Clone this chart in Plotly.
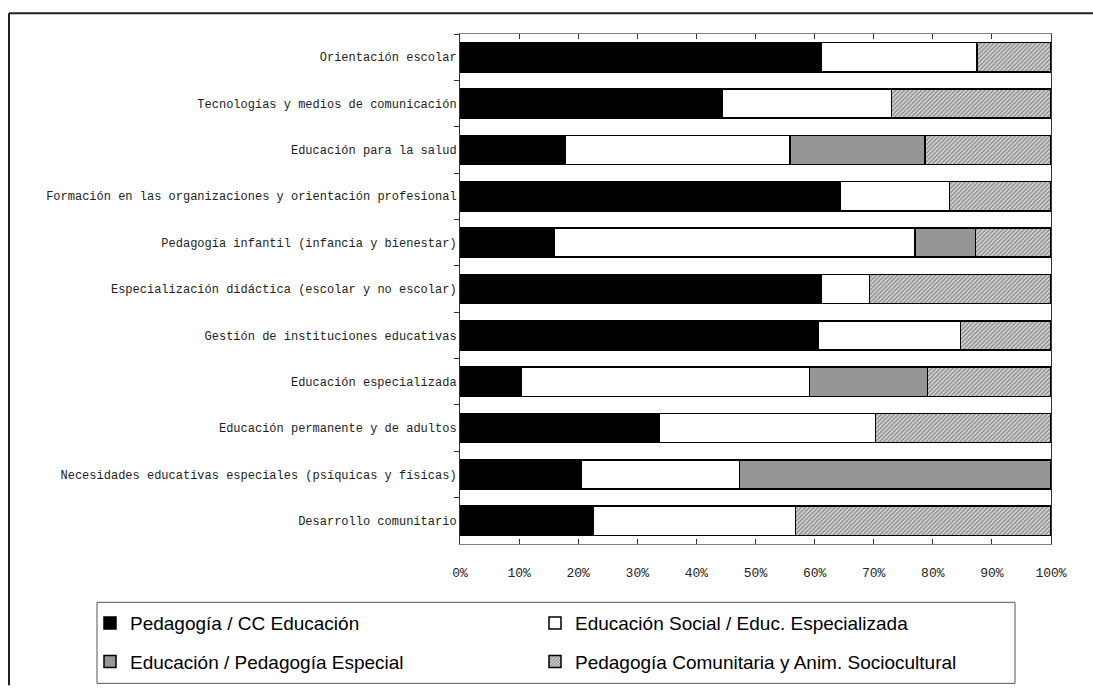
import plotly.graph_objects as go

# Study areas (top to bottom as drawn)
categories = [
    "Orientación escolar",
    "Tecnologías y medios de comunicación",
    "Educación para la salud",
    "Formación en las organizaciones y orientación profesional",
    "Pedagogía infantil (infancia y bienestar)",
    "Especialización didáctica (escolar y no escolar)",
    "Gestión de instituciones educativas",
    "Educación especializada",
    "Educación permanente y de adultos",
    "Necesidades educativas especiales (psíquicas y físicas)",
    "Desarrollo comunitario",
]

# Share (%) of each degree per area
pedagogia_cc = [61.2, 44.4, 17.8, 64.3, 16.0, 61.2, 60.6, 10.3, 33.7, 20.5, 22.5]
educ_social = [26.3, 28.6, 38.0, 18.5, 61.0, 8.1, 24.1, 48.8, 36.6, 26.8, 34.3]
pedag_especial = [0.0, 0.0, 22.9, 0.0, 10.2, 0.0, 0.0, 20.0, 0.0, 52.7, 0.0]
pedag_comunitaria = [12.5, 27.0, 21.3, 17.2, 12.8, 30.7, 15.3, 20.9, 29.7, 0.0, 43.2]

series_names = [
    "Pedagogía / CC Educación",
    "Educación Social / Educ. Especializada",
    "Educación / Pedagogía Especial",
    "Pedagogía Comunitaria y Anim. Sociocultural",
]

tick_vals = [0, 10, 20, 30, 40, 50, 60, 70, 80, 90, 100]
tick_text = ["0%", "10%", "20%", "30%", "40%", "50%", "60%", "70%", "80%", "90%", "100%"]

W, H = 1093, 693
L, R, T, B = 460, 1051, 34, 550  # plot area in pixels
pw, ph = R - L, B - T


def px(x):
    return (x - L) / pw


def py(y):
    return (B - y) / ph


outline = dict(color="black", width=1.5)
fig = go.Figure()
fig.add_trace(go.Bar(
    y=categories, x=pedagogia_cc, name=series_names[0], orientation="h",
    marker=dict(color="black", line=outline), legend="legend",
))
fig.add_trace(go.Bar(
    y=categories, x=educ_social, name=series_names[1], orientation="h",
    marker=dict(color="white", line=outline), legend="legend",
))
fig.add_trace(go.Bar(
    y=categories, x=pedag_especial, name=series_names[2], orientation="h",
    marker=dict(color="#969696", line=outline), legend="legend2",
))
fig.add_trace(go.Bar(
    y=categories, x=pedag_comunitaria, name=series_names[3], orientation="h",
    marker=dict(color="white", line=outline,
                pattern=dict(shape="/", fgcolor="#404040", bgcolor="#dadada",
                             size=3, solidity=0.5)),
    legend="legend2",
))

legend_font = dict(family="Liberation Sans", size=19, color="black")
legend_common = dict(
    orientation="h", xanchor="left", yanchor="middle",
    traceorder="normal", itemwidth=30,
    entrywidth=400, entrywidthmode="pixels",
    font=legend_font, bgcolor="rgba(0,0,0,0)", borderwidth=0,
    itemclick=False, itemdoubleclick=False,
)

frame_line = dict(color="#222222", width=2)

fig.update_layout(
    width=W, height=H,
    margin=dict(l=L, r=W - R, t=T, b=H - B),
    paper_bgcolor="white", plot_bgcolor="white",
    barmode="stack", bargap=0.37,
    showlegend=True,
    legend=dict(x=px(90), y=py(630), **legend_common),
    legend2=dict(x=px(90), y=py(669), **legend_common),
    xaxis=dict(
        range=[0, 100], tickvals=tick_vals, ticktext=tick_text,
        showgrid=False, zeroline=False,
        showline=True, linecolor="#808080", linewidth=1, mirror="ticks",
        ticks="inside", ticklen=5, tickcolor="#333333",
        ticklabelstandoff=16,
        tickfont=dict(family="Liberation Mono", size=13, color="#222222"),
    ),
    yaxis=dict(
        categoryorder="array", categoryarray=categories, autorange="reversed",
        showgrid=False, zeroline=False,
        showline=True, linecolor="#333333", linewidth=1, mirror=True,
        ticks="outside", ticklen=5, tickcolor="#333333", tickson="boundaries",
        tickfont=dict(family="Liberation Mono", size=12, color="#222222"),
    ),
    shapes=[
        # legend frame
        dict(type="rect", xref="paper", yref="paper",
             x0=px(97), x1=px(1015), y0=py(609), y1=py(691),
             line=dict(color="#555555", width=1), fillcolor="rgba(0,0,0,0)"),
        # outer chart frame: top and left edges
        dict(type="line", xref="paper", yref="paper",
             x0=px(9), x1=px(W), y0=py(13), y1=py(13), line=frame_line),
        dict(type="line", xref="paper", yref="paper",
             x0=px(9), x1=px(9), y0=py(13), y1=py(H), line=frame_line),
    ],
)

fig.write_html("out.html")
